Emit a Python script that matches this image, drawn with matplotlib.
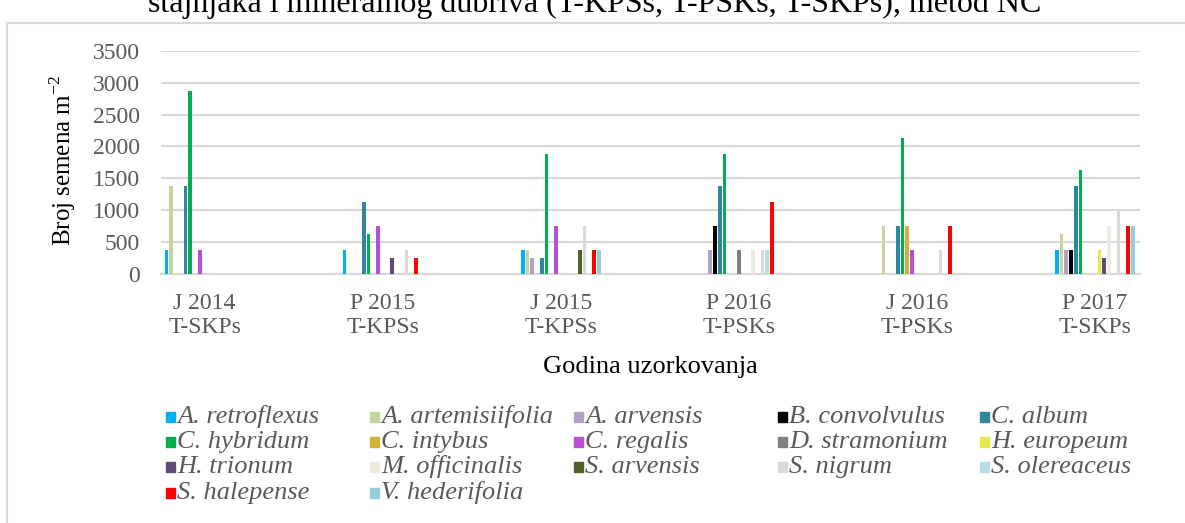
import numpy as np
import matplotlib
matplotlib.use("Agg")
import matplotlib.pyplot as plt
from matplotlib.patches import Rectangle

plt.rcParams["font.family"] = ["Liberation Serif", "DejaVu Serif"]
plt.rcParams["mathtext.fontset"] = "custom"
plt.rcParams["mathtext.rm"] = "Liberation Serif"

groups = ["J 2014\nT-SKPs", "P 2015\nT-KPSs", "J 2015\nT-KPSs",
          "P 2016\nT-PSKs", "J 2016\nT-PSKs", "P 2017\nT-SKPs"]

species = ["A. retroflexus", "A. artemisiifolia", "A. arvensis", "B. convolvulus",
           "C. album", "C. hybridum", "C. intybus", "C. regalis", "D. stramonium",
           "H. europeum", "H. trionum", "M. officinalis", "S. arvensis", "S. nigrum",
           "S. olereaceus", "S. halepense", "V. hederifolia"]

colors = ["#00B0F0", "#C4D79B", "#B1A0C7", "#000000", "#31859C", "#00B050",
          "#D4B23A", "#B94FD8", "#808080", "#E8E84A", "#604A7B", "#EEECE1",
          "#4F6228", "#D9D9D9", "#B7DEE8", "#FF0000", "#92CDDC"]

# seeds per m2, one value per sampling (6 groups)
a_retroflexus = [375, 375, 375, 0, 0, 375]
a_artemisiifolia = [1375, 0, 375, 0, 750, 625]
a_arvensis = [0, 0, 250, 375, 0, 375]
b_convolvulus = [0, 0, 0, 750, 0, 375]
c_album = [1375, 1125, 250, 1375, 750, 1375]
c_hybridum = [2875, 625, 1875, 1875, 2125, 1625]
c_intybus = [0, 0, 0, 0, 750, 0]
c_regalis = [375, 750, 750, 0, 375, 0]
d_stramonium = [0, 0, 0, 375, 0, 0]
h_europeum = [0, 0, 0, 0, 0, 375]
h_trionum = [0, 250, 0, 0, 0, 250]
m_officinalis = [0, 0, 0, 375, 0, 750]
s_arvensis = [0, 0, 375, 0, 0, 0]
s_nigrum = [0, 375, 750, 375, 375, 1000]
s_olereaceus = [0, 0, 0, 375, 0, 0]
s_halepense = [0, 250, 375, 1125, 750, 750]
v_hederifolia = [0, 0, 375, 0, 0, 750]

values = [a_retroflexus, a_artemisiifolia, a_arvensis, b_convolvulus, c_album,
          c_hybridum, c_intybus, c_regalis, d_stramonium, h_europeum, h_trionum,
          m_officinalis, s_arvensis, s_nigrum, s_olereaceus, s_halepense,
          v_hederifolia]

W, H = 1185, 523
fig = plt.figure(figsize=(W / 100, H / 100), dpi=100)

ax = fig.add_axes([161 / W, 1 - 273.5 / H, (1140 - 161) / W, (273.5 - 51) / H])

x = np.arange(len(groups))
step = 0.0267
for k, (vals, col) in enumerate(zip(values, colors)):
    ax.bar(x + (k - 8) * step, vals, width=0.021, color=col, zorder=3)

ax.set_xlim(-0.245, 5.254)
ax.set_ylim(0, 3500)
ax.set_yticks(range(0, 3501, 500))
ax.yaxis.grid(True, color="#D9D9D9", linewidth=1.5, zorder=0)
for s in ["top", "right", "left"]:
    ax.spines[s].set_visible(False)
ax.spines["bottom"].set_color("#D9D9D9")
ax.spines["bottom"].set_linewidth(1.5)
ax.tick_params(length=0, labelsize=17, labelcolor="#595959")
ax.tick_params(axis="y", pad=15)
ax.tick_params(axis="x", pad=14)
ax.set_xticks(x)
ax.set_xticklabels(groups, linespacing=1.2)

fig.text(63 / W, 1 - 160 / H, r"Broj semena m$^{\mathrm{-2}}$", rotation=90,
         ha="center", va="center", fontsize=18)
fig.text(650 / W, 1 - 367 / H, "Godina uzorkovanja", ha="center",
         va="center", fontsize=19)

# title (cut off at the top in the original)
fig.text(595 / W, 1 - 12 / H,
         "stajnjaka i mineralnog đubriva (T-KPSs, T-PSKs, T-SKPs), metod NC",
         ha="center", va="baseline", fontsize=23)

# chart frame
fig.add_artist(plt.Line2D([7 / W, 7 / W], [0, 1 - 23 / H], transform=fig.transFigure,
                          color="#D9D9D9", linewidth=1.5))
fig.add_artist(plt.Line2D([7 / W, 1], [1 - 23 / H, 1 - 23 / H], transform=fig.transFigure,
                          color="#D9D9D9", linewidth=1.5))

# legend, row-wise in 5 columns
col_x = [166, 370, 574, 778, 980]
row_y = [417, 442, 467, 493]
for k, (name, col) in enumerate(zip(species, colors)):
    r, c = divmod(k, 5)
    px, py = col_x[c], row_y[r]
    fig.add_artist(Rectangle((px / W, (H - py - 5) / H), 9 / W, 10 / H,
                             transform=fig.transFigure, color=col))
    fig.text((px + 11) / W, 1 - py / H, name, fontsize=19, style="italic",
             color="#595959", ha="left", va="center")

fig.savefig("out.png", dpi=100)
